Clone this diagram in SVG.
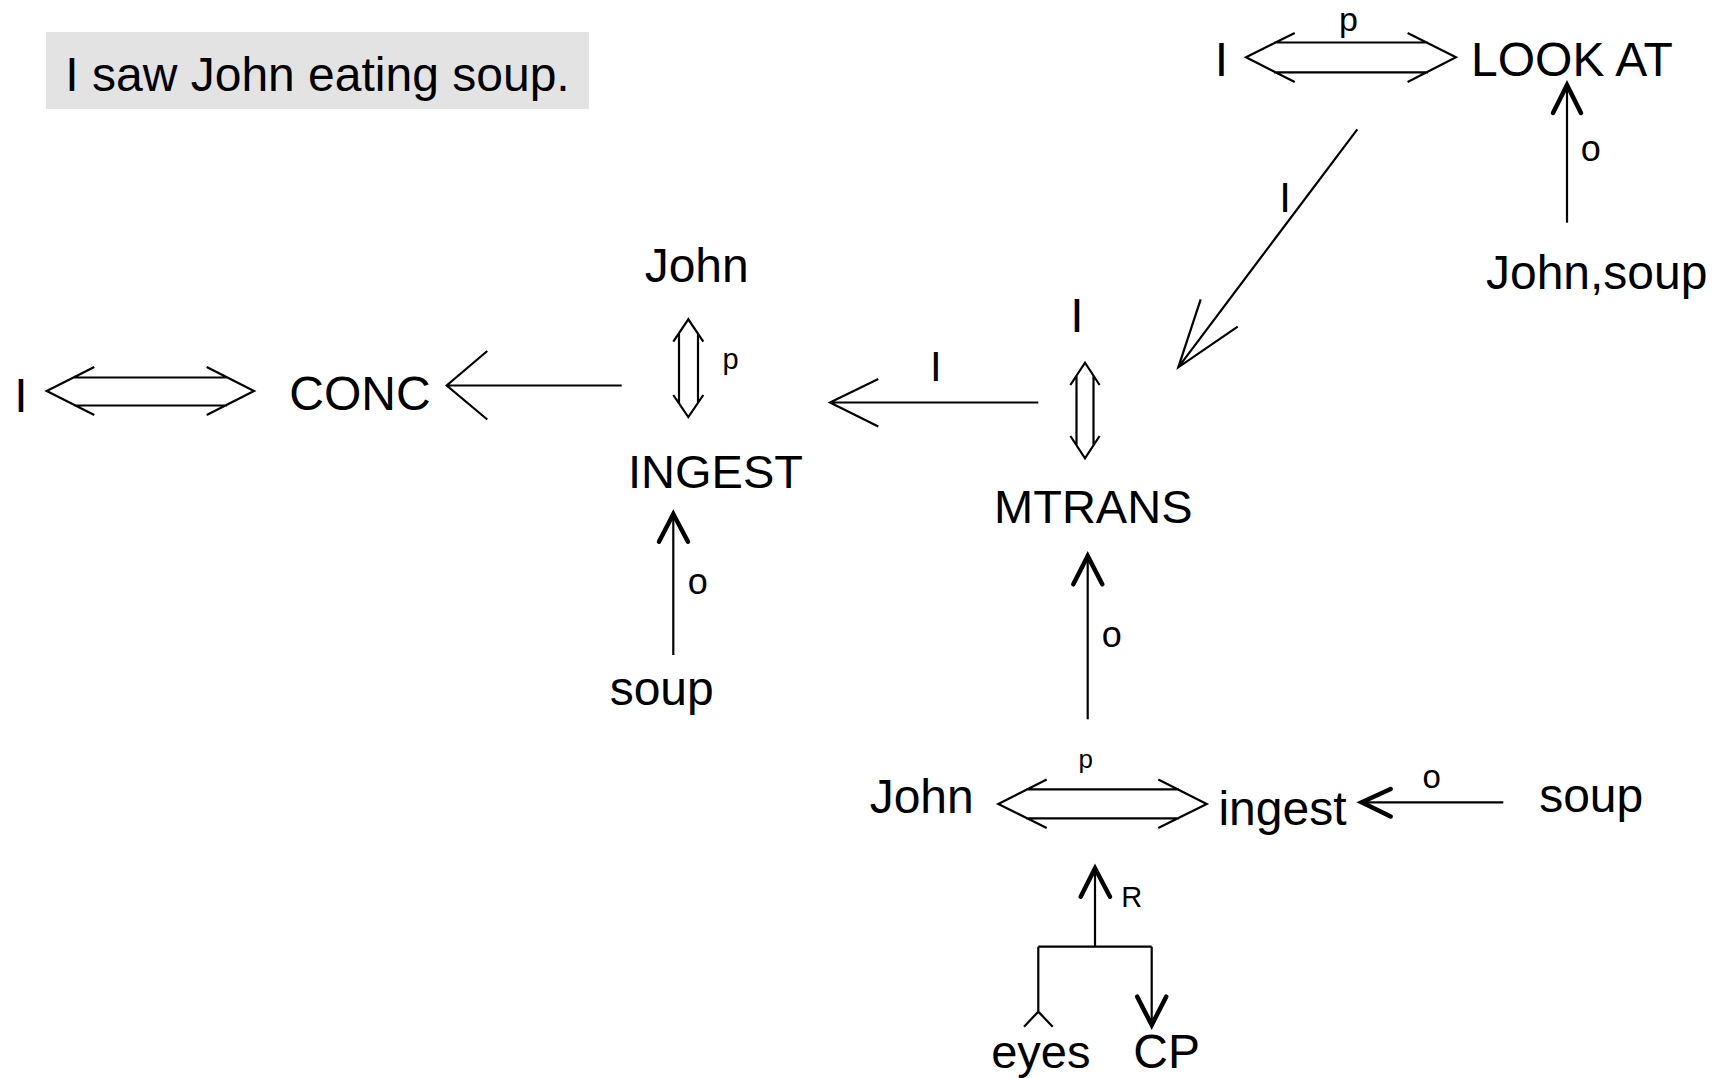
<svg xmlns="http://www.w3.org/2000/svg" width="1722" height="1078" viewBox="0 0 1722 1078">
<style>
text{font-family:"Liberation Sans",Arial,Helvetica,sans-serif;fill:#000;text-anchor:middle}
.n{font-size:48px}
.lbl{font-size:42px}
.sm{font-size:29px}
.o{font-size:36px}
.ln{stroke:#000;stroke-width:2.2;fill:none}
.hd{stroke:#000;stroke-width:4.5;fill:none;stroke-linecap:round;stroke-linejoin:miter}
</style>
<rect width="1722" height="1078" fill="#fff"/>
<g id="title">
<rect x="46" y="32" width="543" height="77" fill="#e3e3e3"/>
<text x="317.5" y="91" style="font-size:48px">I saw John eating soup.</text>
</g>
<g id="node-I-conc"><text class="n" x="20.8" y="412">I</text></g>
<g id="node-CONC"><text class="n" x="360" y="410">CONC</text></g>
<g id="node-John-top"><text class="n" x="696.7" y="282">John</text></g>
<g id="node-INGEST"><text class="n" x="715.5" y="488.3" style="font-size:47px">INGEST</text></g>
<g id="node-soup-left"><text class="n" x="661.7" y="705">soup</text></g>
<g id="node-I-mtrans"><text class="n" x="1077" y="331.7">I</text></g>
<g id="node-MTRANS"><text class="n" x="1093.3" y="523.3" style="font-size:47px">MTRANS</text></g>
<g id="node-I-look"><text class="n" x="1221.5" y="75.5">I</text></g>
<g id="node-LOOKAT"><text class="n" x="1572" y="75.5">LOOK AT</text></g>
<g id="node-John-soup"><text class="n" x="1596.7" y="289.3">John,soup</text></g>
<g id="node-John-bottom"><text class="n" x="921.7" y="813.3">John</text></g>
<g id="node-ingest"><text class="n" x="1282.5" y="825">ingest</text></g>
<g id="node-soup-right"><text class="n" x="1591.2" y="811.7">soup</text></g>
<g id="node-eyes"><text class="n" x="1040.8" y="1068" style="font-size:47px">eyes</text></g>
<g id="node-CP"><text class="n" x="1166.7" y="1068">CP</text></g>
<g id="connectors">
<!-- I <=> CONC -->
<path class="ln" d="M94.3,367 L46.7,391 L94.3,415 M206.7,367 L254,391 L206.7,415 M74,377.5 H227 M74,405.5 H227"/>
<!-- CONC <- INGEST -->
<path class="ln" d="M487.3,351 L446.7,385.5 L487.3,419.5 M446.7,385.5 H621.7"/>
<!-- John <=> INGEST (vertical) -->
<path class="ln" d="M673.3,341.7 L688.3,319.3 L703.3,341.7 M673.3,395 L688.3,417 L703.3,395 M679,333 V403 M698,333 V403"/>
<text class="sm" x="730.5" y="369">p</text>
<!-- INGEST <- MTRANS -->
<path class="ln" d="M878.3,379 L830,402.5 L878.3,426.5 M830,402.5 H1038.3"/>
<text class="lbl" x="935.8" y="380.5">I</text>
<!-- soup -> INGEST -->
<path class="ln" d="M673.3,655 V515"/>
<path class="hd" d="M659,541.7 L673.3,514 L688,541.7"/>
<text class="o" x="697.7" y="593.5">o</text>
<!-- I <=> MTRANS (vertical) -->
<path class="ln" d="M1070.4,385 L1085,362.7 L1099.6,385 M1070.4,436 L1085,458.3 L1099.6,436 M1076.5,376 V445 M1093.5,376 V445"/>
<!-- LOOK AT -> MTRANS diagonal -->
<path class="ln" d="M1357.3,129.3 L1178.3,367.3 M1200.7,299.3 L1178.3,367.3 L1237.7,326.7"/>
<text class="lbl" x="1285" y="212">I</text>
<!-- I <=> LOOK AT -->
<path class="ln" d="M1294.7,33 L1246,57.3 L1294.7,82 M1407.6,33 L1456,57.3 L1407.6,82 M1274,42.5 H1428 M1274,72.3 H1428"/>
<text style="font-size:34px" x="1348.5" y="31">p</text>
<!-- John,soup -> LOOK AT -->
<path class="ln" d="M1567,222.7 V87"/>
<path class="hd" d="M1553,113 L1567,85 L1581,113"/>
<text class="o" x="1590.7" y="161">o</text>
<!-- ingest -> MTRANS -->
<path class="ln" d="M1087.7,719.3 V558"/>
<path class="hd" d="M1073.3,584.3 L1087.7,556 L1102.3,584.3"/>
<text class="o" x="1111.7" y="647">o</text>
<!-- John <=> ingest -->
<path class="ln" d="M1046.7,779.5 L998.3,804 L1046.7,828 M1158.3,779.5 L1206.7,804 L1158.3,828 M1026,789.3 H1179 M1026,818.3 H1179"/>
<text style="font-size:26px" x="1085.8" y="768">p</text>
<!-- soup -> ingest -->
<path class="ln" d="M1503.3,802.3 H1364"/>
<path class="hd" d="M1390.7,789 L1361.7,802.3 L1390.7,816.5"/>
<text style="font-size:33px" x="1431.7" y="788">o</text>
<!-- R instrument -->
<path class="ln" d="M1095,946.7 V871 M1038.3,946.7 H1151.7 M1038.3,946.7 V1011.7 M1024,1026.7 L1038.3,1011.7 L1052.7,1026.7 M1151.7,946.7 V1022"/>
<path class="hd" d="M1080.7,896.7 L1095,868.3 L1110,896.7"/>
<path class="hd" d="M1137.2,996.7 L1151.7,1025 L1166.2,996.7"/>
<text style="font-size:29px" x="1131.7" y="906.7">R</text>
</g>
</svg>
